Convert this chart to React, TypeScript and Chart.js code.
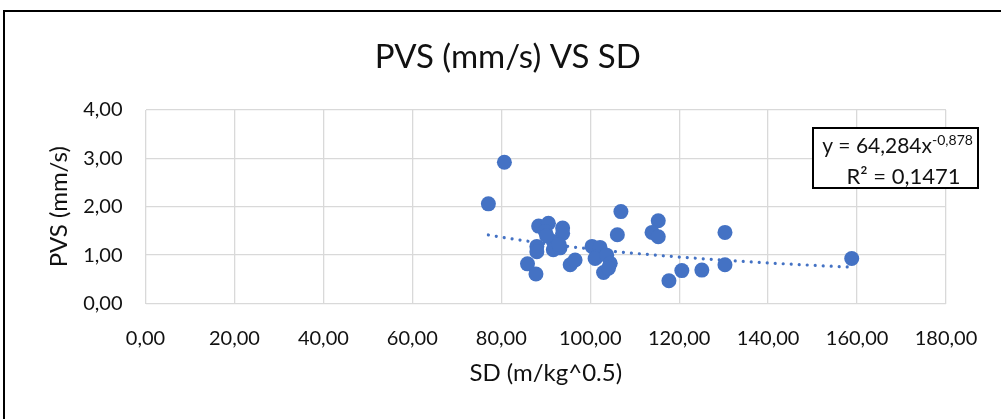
import React, { useEffect, useRef } from "react";
import { Chart, registerables } from "chart.js";

Chart.register(...registerables);

const chartTitle = "PVS (mm/s) VS SD";
const xAxisTitle = "SD (m/kg^0.5)";
const yAxisTitle = "PVS (mm/s)";

const sdValues = [
  80.7, 77.1, 88.4, 90.6, 89.9, 93.8, 93.8, 88.0, 88.0, 91.7, 91.7, 93.2, 90.2, 93.0,
  85.9, 87.8, 95.5, 96.6, 100.4, 102.2, 101.5, 101.1, 103.7, 104.5, 103.0, 104.1,
  106.9, 106.1, 115.3, 113.9, 115.3, 117.7, 120.6, 125.1, 130.3, 130.3, 158.8,
];
const pvsValues = [
  2.92, 2.06, 1.60, 1.66, 1.49, 1.56, 1.45, 1.18, 1.07, 1.28, 1.11, 1.15, 1.40, 1.22,
  0.82, 0.61, 0.80, 0.90, 1.18, 1.16, 0.97, 0.93, 1.00, 0.83, 0.64, 0.73,
  1.90, 1.42, 1.71, 1.47, 1.38, 0.47, 0.68, 0.69, 1.47, 0.80, 0.93,
];

const xTickValues = [0, 20, 40, 60, 80, 100, 120, 140, 160, 180];
const yTickValues = [0, 1, 2, 3, 4];

// Power trendline reported by the chart: y = a * x^b
const trendA = 64.284;
const trendB = -0.878;
const equationMain = "y = 64,284x";
const equationExp = "-0,878";
const rSquaredLabel = "R² = 0,1471";

const FONT = "Lato";
const TEXT = "#111111";
const GRID = "#d9d9d9";
const BLUE = "#4472C4";

const fmt = (v: number) => v.toFixed(2).replace(".", ",");

// Chart title: centred on the (wider) Excel chart object, not on the plot
const titlePlugin = {
  id: "excelTitle",
  afterDraw(chart: any) {
    const { ctx, chartArea } = chart;
    ctx.save();
    ctx.fillStyle = TEXT;
    ctx.font = `33px ${FONT}`;
    ctx.textAlign = "center";
    ctx.textBaseline = "middle";
    ctx.fillText(chartTitle, (chartArea.left + chartArea.right) / 2 - 38, chartArea.top - 53);
    ctx.restore();
  },
};

const equationPlugin = {
  id: "equationBox",
  afterDraw(chart: any) {
    const { ctx, chartArea } = chart;
    const w = 165;
    const h = 60;
    const x = chartArea.right - 133;
    const y = chartArea.top + 18;
    ctx.save();
    ctx.fillStyle = "#fff";
    ctx.fillRect(x, y, w, h);
    ctx.lineWidth = 2;
    ctx.strokeStyle = "#000";
    ctx.strokeRect(x, y, w, h);
    ctx.fillStyle = TEXT;
    ctx.textBaseline = "alphabetic";
    ctx.textAlign = "left";
    ctx.font = `21px ${FONT}`;
    const mainW = ctx.measureText(equationMain).width;
    ctx.font = `14px ${FONT}`;
    const expW = ctx.measureText(equationExp).width;
    const sx = x + w / 2 - (mainW + expW) / 2 + 2;
    ctx.font = `21px ${FONT}`;
    ctx.fillText(equationMain, sx, y + 25);
    ctx.font = `14px ${FONT}`;
    ctx.fillText(equationExp, sx + mainW, y + 17);
    ctx.font = `22px ${FONT}`;
    ctx.textAlign = "center";
    ctx.fillText(rSquaredLabel, x + w / 2 + 8, y + 56);
    ctx.restore();
  },
};

export default function App() {
  const canvasRef = useRef<HTMLCanvasElement | null>(null);

  useEffect(() => {
    if (!canvasRef.current) return;
    const points = sdValues.map((x, i) => ({ x, y: pvsValues[i] }));
    const xMin = Math.min(...sdValues);
    const xMax = Math.max(...sdValues);
    const trend: { x: number; y: number }[] = [];
    const steps = 80;
    for (let i = 0; i <= steps; i++) {
      const x = xMin + ((xMax - xMin) * i) / steps;
      trend.push({ x, y: trendA * Math.pow(x, trendB) });
    }

    const chart = new Chart(canvasRef.current, {
      type: "scatter",
      data: {
        datasets: [
          {
            label: "PVS",
            data: points,
            backgroundColor: BLUE,
            borderColor: BLUE,
            borderWidth: 0,
            pointRadius: 7.5,
            pointHoverRadius: 7.5,
          },
          {
            label: "Trend",
            type: "line",
            data: trend,
            showLine: true,
            borderColor: BLUE,
            borderWidth: 3.2,
            borderDash: [0.01, 8],
            borderCapStyle: "round",
            pointRadius: 0,
            fill: false,
            tension: 0,
          } as any,
        ],
      },
      options: {
        responsive: false,
        animation: false,
        layout: { padding: { left: 0, right: 55, top: 110, bottom: 0 } },
        plugins: {
          legend: { display: false },
          tooltip: { enabled: false },
          title: { display: false },
        },
        scales: {
          x: {
            type: "linear",
            min: 0,
            max: 180,
            afterBuildTicks: (s: any) => {
              s.ticks = xTickValues.map((v) => ({ value: v }));
            },
            afterFit: (s: any) => {
              s.height = 115.5;
            },
            ticks: {
              callback: (v: any) => fmt(Number(v)),
              color: TEXT,
              font: { family: FONT, size: 20 },
              padding: 23,
              maxRotation: 0,
            },
            grid: { color: GRID, lineWidth: 1.3, drawTicks: false },
            border: { display: false },
            title: {
              display: true,
              text: xAxisTitle,
              color: TEXT,
              font: { family: FONT, size: 24 },
              padding: { top: 0, bottom: 31 },
            },
          },
          y: {
            type: "linear",
            min: 0,
            max: 4,
            afterBuildTicks: (s: any) => {
              s.ticks = yTickValues.map((v) => ({ value: v }));
            },
            afterFit: (s: any) => {
              s.width = 145.5;
            },
            ticks: {
              callback: (v: any) => fmt(Number(v)),
              color: TEXT,
              font: { family: FONT, size: 20 },
              padding: 23,
            },
            grid: { color: GRID, lineWidth: 1.3, drawTicks: false },
            border: { display: false },
            title: {
              display: true,
              text: yAxisTitle,
              color: TEXT,
              font: { family: FONT, size: 24 },
              padding: { top: 45, bottom: 0 },
            },
          },
        },
      },
      plugins: [titlePlugin, equationPlugin],
    });
    return () => chart.destroy();
  }, []);

  return (
    <div
      style={{
        position: "fixed",
        left: 0,
        top: 0,
        width: 1001,
        height: 419,
        background: "#fff",
        overflow: "hidden",
      }}
    >
      <div
        style={{
          position: "absolute",
          left: 3,
          top: 10,
          width: 1020,
          height: 430,
          border: "2px solid #000",
          boxSizing: "border-box",
        }}
      />
      <canvas
        ref={canvasRef}
        width={1001}
        height={419}
        style={{ position: "absolute", left: 0, top: 0 }}
      />
    </div>
  );
}
